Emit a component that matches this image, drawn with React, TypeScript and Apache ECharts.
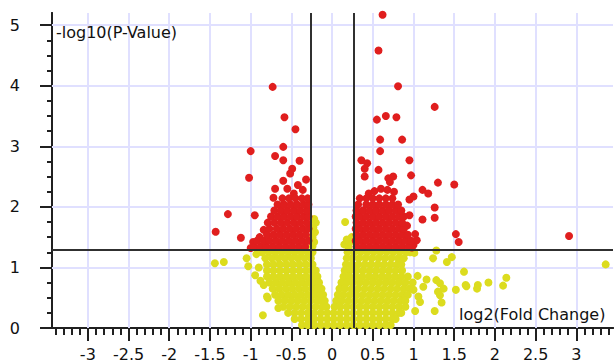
import React, { useEffect, useRef } from "react";
import * as echarts from "echarts";

// ---- axis ranges & ticks ----
const X_MIN = -3.44;
const X_MAX = 3.45;
const Y_MIN = 0;
const Y_MAX = 5.2;
const xMajorTicks = [-3, -2.5, -2, -1.5, -1, -0.5, 0, 0.5, 1, 1.5, 2, 2.5, 3];
const yMajorTicks = [0, 1, 2, 3, 4, 5];
const xGridLines = [-3, -2.5, -2, -1.5, -1, -0.5, 0, 0.5, 1, 1.5, 2, 2.5, 3];
const yGridLines = [1, 2, 3, 4, 5];
const xMinorTicks: number[] = [];
for (let i = -34; i <= 34; i++) xMinorTicks.push(i / 10);
const yMinorTicks: number[] = [];
for (let i = 0; i <= 20; i++) yMinorTicks.push(i / 4);

// thresholds
const fcThreshold = 0.263; // log2(1.2)
const pThreshold = 1.301; // -log10(0.05)

const xTitle = "log2(Fold Change)";
const yTitle = "-log10(P-Value)";

// ---- significant (red) points ----
const redLeftOutliers: [number, number][] = [
  [-0.73, 3.98], [-0.585, 3.48], [-0.45, 3.28], [-1.0, 2.92], [-0.6, 2.99],
  [-0.7, 2.84], [-0.6, 2.77], [-0.4, 2.76], [-1.02, 2.48], [-0.49, 2.63],
  [-0.515, 2.55], [-0.6, 2.43], [-0.32, 2.45], [-0.7, 2.3], [-0.72, 2.15],
  [-1.28, 1.88], [-0.95, 1.86], [-1.43, 1.59], [-1.12, 1.49], [-0.89, 1.5],
  [-0.97, 1.42], [-1.0, 1.32], [-0.42, 2.36], [-0.36, 2.28], [-0.55, 2.3],
  [-0.84, 1.62], [-0.47, 2.22],
];
const redLeftRows: [number, number[]][] = [
  [1.34, [-0.96, -0.88, -0.81, -0.73, -0.65, -0.57, -0.49, -0.41, -0.33]],
  [1.44, [-0.92, -0.84, -0.77, -0.69, -0.61, -0.53, -0.45, -0.37, -0.29]],
  [1.54, [-0.8, -0.72, -0.64, -0.56, -0.48, -0.4, -0.32]],
  [1.64, [-0.77, -0.68, -0.6, -0.52, -0.44, -0.36, -0.29]],
  [1.74, [-0.79, -0.71, -0.63, -0.55, -0.47, -0.39, -0.31]],
  [1.84, [-0.75, -0.67, -0.59, -0.51, -0.43, -0.35, -0.29]],
  [1.94, [-0.71, -0.63, -0.55, -0.47, -0.39, -0.31]],
  [2.04, [-0.67, -0.59, -0.51, -0.43, -0.35, -0.29]],
  [2.14, [-0.61, -0.53, -0.45, -0.37, -0.3]],
];
const redRightOutliers: [number, number][] = [
  [0.62, 5.17], [0.57, 4.58], [0.81, 3.99], [1.26, 3.65], [0.55, 3.44],
  [0.66, 3.5], [0.79, 3.48], [0.59, 3.11], [0.86, 3.11], [0.59, 2.92],
  [0.36, 2.77], [0.43, 2.72], [0.4, 2.63], [0.57, 2.61], [0.4, 2.5],
  [0.95, 2.77], [0.97, 2.52], [1.3, 2.4], [1.5, 2.37], [1.11, 2.28],
  [1.18, 2.22], [1.0, 2.17], [0.95, 2.12], [1.26, 1.99], [1.26, 1.82],
  [1.11, 1.79], [0.95, 1.86], [0.92, 1.69], [1.52, 1.55], [1.555, 1.42],
  [1.0, 1.37], [0.69, 2.47], [0.75, 2.5], [0.71, 2.41], [2.91, 1.52],
  [1.04, 1.45], [1.02, 1.55], [0.98, 1.33], [0.52, 2.26], [0.6, 2.3],
  [0.68, 2.28], [0.76, 2.25], [0.45, 2.22],
];
const redRightRows: [number, number[]][] = [
  [1.34, [0.3, 0.38, 0.46, 0.54, 0.62, 0.7, 0.78, 0.86, 0.94]],
  [1.44, [0.29, 0.34, 0.42, 0.5, 0.58, 0.66, 0.74, 0.82, 0.9, 0.97]],
  [1.54, [0.3, 0.38, 0.46, 0.54, 0.62, 0.7, 0.78, 0.86, 0.93]],
  [1.64, [0.29, 0.34, 0.42, 0.5, 0.58, 0.66, 0.74, 0.82, 0.88]],
  [1.74, [0.3, 0.38, 0.46, 0.54, 0.62, 0.7, 0.78, 0.86]],
  [1.84, [0.29, 0.34, 0.42, 0.5, 0.58, 0.66, 0.74, 0.82, 0.88]],
  [1.94, [0.3, 0.38, 0.46, 0.54, 0.62, 0.7, 0.78, 0.85]],
  [2.04, [0.32, 0.42, 0.5, 0.58, 0.66, 0.74, 0.81]],
  [2.14, [0.34, 0.42, 0.5, 0.58, 0.66, 0.74]],
];

// ---- non-significant (yellow) points ----
const yellowRows: [number, number[]][] = [
  [1.25, [-0.86, -0.78, -0.7, -0.62, -0.54, -0.46, -0.38, -0.3, -0.24, 0.19, 0.27, 0.35, 0.43, 0.51, 0.59, 0.67, 0.75, 0.83, 0.91, 0.96]],
  [1.15, [-0.82, -0.74, -0.66, -0.58, -0.5, -0.42, -0.34, -0.26, 0.18, 0.25, 0.33, 0.41, 0.49, 0.57, 0.65, 0.73, 0.81, 0.88]],
  [1.05, [-0.8, -0.72, -0.64, -0.56, -0.48, -0.4, -0.32, -0.24, 0.17, 0.24, 0.32, 0.4, 0.48, 0.56, 0.64, 0.72, 0.8, 0.85]],
  [0.95, [-0.8, -0.72, -0.64, -0.56, -0.48, -0.4, -0.32, -0.25, -0.2, 0.155, 0.22, 0.3, 0.38, 0.46, 0.54, 0.62, 0.7, 0.78, 0.86]],
  [0.85, [-0.8, -0.72, -0.64, -0.56, -0.48, -0.4, -0.32, -0.24, -0.18, 0.14, 0.21, 0.29, 0.37, 0.45, 0.53, 0.61, 0.69, 0.77, 0.85, 0.93]],
  [0.75, [-0.77, -0.69, -0.61, -0.53, -0.45, -0.37, -0.29, -0.21, -0.16, 0.115, 0.18, 0.26, 0.34, 0.42, 0.5, 0.58, 0.66, 0.74, 0.82, 0.9, 0.99]],
  [0.65, [-0.73, -0.65, -0.57, -0.49, -0.41, -0.33, -0.25, -0.18, -0.13, 0.09, 0.16, 0.24, 0.32, 0.4, 0.48, 0.56, 0.64, 0.72, 0.8, 0.88, 0.95]],
  [0.55, [-0.7, -0.62, -0.54, -0.46, -0.38, -0.3, -0.22, -0.15, -0.11, 0.07, 0.14, 0.22, 0.3, 0.38, 0.46, 0.54, 0.62, 0.7, 0.78, 0.86, 0.93]],
  [0.45, [-0.66, -0.58, -0.5, -0.42, -0.34, -0.26, -0.18, -0.12, -0.09, 0.05, 0.12, 0.2, 0.28, 0.36, 0.44, 0.52, 0.6, 0.68, 0.76, 0.84, 0.9]],
  [0.35, [-0.6, -0.52, -0.44, -0.36, -0.28, -0.2, -0.12, -0.07, 0.03, 0.1, 0.18, 0.26, 0.34, 0.42, 0.5, 0.58, 0.66, 0.74, 0.82, 0.9]],
  [0.25, [-0.54, -0.46, -0.38, -0.3, -0.22, -0.14, -0.06, 0.02, 0.1, 0.18, 0.26, 0.34, 0.42, 0.5, 0.58, 0.66, 0.74, 0.82, 0.85]],
  [0.15, [-0.46, -0.38, -0.3, -0.22, -0.14, -0.06, 0.02, 0.1, 0.18, 0.26, 0.34, 0.42, 0.5, 0.58, 0.66, 0.74, 0.78]],
  [0.05, [-0.37, -0.3, -0.22, -0.14, -0.06, 0.02, 0.1, 0.18, 0.26, 0.34, 0.42, 0.5, 0.58, 0.66, 0.72]],
];
const yellowOutliers: [number, number][] = [
  [-1.44, 1.07], [-1.33, 1.09], [-1.05, 1.15], [-1.03, 1.02], [-0.93, 1.22],
  [-0.85, 0.21], [-0.66, 0.33], [-0.79, 0.49], [-0.945, 0.87], [-0.84, 0.71],
  [-0.8, 0.52], [-0.9, 1.0], [-0.88, 0.78],
  [1.28, 1.28], [1.24, 1.15], [1.41, 1.09], [1.47, 1.17], [1.01, 1.24],
  [1.62, 0.93], [1.52, 0.63], [1.65, 0.69], [1.79, 0.71], [1.92, 0.75],
  [2.1, 0.7], [2.14, 0.83], [3.36, 1.05], [1.05, 0.86], [1.16, 0.8],
  [1.28, 0.79], [1.325, 0.74], [1.37, 0.65], [1.325, 0.54], [1.345, 0.42],
  [1.26, 0.28], [1.02, 0.28], [1.06, 0.52], [1.08, 0.43], [1.0, 0.63],
  [1.64, 0.71], [1.78, 0.65], [1.12, 0.68], [1.3, 0.6],
];
const yellowNearLines: [number, number][] = [
  [-0.24, 1.35], [-0.22, 1.42], [-0.24, 1.5], [-0.21, 1.58], [-0.23, 1.66],
  [-0.2, 1.74], [-0.22, 1.8], [0.16, 1.75], [0.2, 1.34], [0.15, 1.38],
  [0.22, 1.42], [0.18, 1.46], [0.24, 1.5],
];

const RED = "#e01e1e";
const YELLOW = "#dcdc1e";
const GRID = "#e0e0ff";
const AXIS = "#202020";
const THRESH = "#303030";
const FONT = "DejaVu Sans";

function rowsToPoints(rows: [number, number[]][]): [number, number][] {
  const out: [number, number][] = [];
  rows.forEach(([y, xs]) => xs.forEach((x) => out.push([x, y])));
  return out;
}

export default function App() {
  const ref = useRef<HTMLDivElement>(null);
  useEffect(() => {
    const chart = echarts.init(ref.current!, null, { renderer: "svg" });
    const yellowData = [...rowsToPoints(yellowRows), ...yellowOutliers, ...yellowNearLines];
    const redData = [
      ...redLeftOutliers,
      ...rowsToPoints(redLeftRows),
      ...redRightOutliers,
      ...rowsToPoints(redRightRows),
    ];
    const axisLineStyle = { color: AXIS, width: 2 };
    const option: any = {
      animation: false,
      backgroundColor: "#ffffff",
      grid: { left: 52, right: 1, top: 13, bottom: 34, containLabel: false, outerBoundsMode: "none" },
      xAxis: [
        {
          type: "value", min: X_MIN, max: X_MAX, position: "bottom",
          axisLine: { show: true, onZero: false, lineStyle: axisLineStyle },
          axisTick: { show: true, customValues: xMajorTicks, length: 13, lineStyle: axisLineStyle },
          axisLabel: {
            show: true, customValues: xMajorTicks, margin: 19, color: "#111",
            fontSize: 16, lineHeight: 14, fontFamily: FONT, formatter: (v: number) => String(v),
          },
          splitLine: { show: false },
        },
        {
          type: "value", min: X_MIN, max: X_MAX, position: "bottom",
          axisLine: { show: true, onZero: false, lineStyle: axisLineStyle },
          axisTick: { show: true, customValues: xMinorTicks, length: 7, lineStyle: axisLineStyle },
          axisLabel: { show: false },
          splitLine: { show: false },
        },
      ],
      yAxis: [
        {
          type: "value", min: Y_MIN, max: Y_MAX, position: "left",
          axisLine: { show: true, onZero: false, lineStyle: axisLineStyle },
          axisTick: { show: true, customValues: yMajorTicks, length: 12, lineStyle: axisLineStyle },
          axisLabel: {
            show: true, customValues: yMajorTicks, margin: 32, color: "#111",
            fontSize: 16, fontFamily: FONT, padding: [5, 0, 0, 0], formatter: (v: number) => String(v),
          },
          splitLine: { show: false },
        },
        {
          type: "value", min: Y_MIN, max: Y_MAX, position: "left",
          axisLine: { show: true, onZero: false, lineStyle: axisLineStyle },
          axisTick: { show: true, customValues: yMinorTicks, length: 5, lineStyle: axisLineStyle },
          axisLabel: { show: false },
          splitLine: { show: false },
        },
      ],
      series: [
        {
          type: "scatter", name: "ns", data: yellowData, symbol: "circle", symbolSize: 8,
          itemStyle: { color: YELLOW, opacity: 1 }, z: 2, silent: true, progressive: 0,
          markLine: {
            silent: true, symbol: "none", z: 1, label: { show: false }, animation: false,
            lineStyle: { color: GRID, width: 2, type: "solid" },
            emphasis: { disabled: true },
            data: [
              ...xGridLines.map((v) => ({ xAxis: v })),
              ...yGridLines.map((v) => ({ yAxis: v })),
            ],
          },
        },
        {
          type: "scatter", name: "sig", data: redData, symbol: "circle", symbolSize: 8,
          itemStyle: { color: RED, opacity: 1 }, z: 3, silent: true, progressive: 0,
          markLine: {
            silent: true, symbol: "none", z: 5, label: { show: false }, animation: false,
            lineStyle: { color: THRESH, width: 2, type: "solid" },
            emphasis: { disabled: true },
            data: [{ xAxis: -fcThreshold }, { xAxis: fcThreshold }, { yAxis: pThreshold }],
          },
        },
      ],
      graphic: [
        {
          type: "text", x: 56, y: 32, z: 10,
          style: { text: yTitle, fill: "#111", font: `16px "${FONT}"`, align: "left", verticalAlign: "middle" },
        },
        {
          type: "text", x: 459, y: 314, z: 10,
          style: { text: xTitle, fill: "#111", font: `16px "${FONT}"`, align: "left", verticalAlign: "middle" },
        },
      ],
    };
    chart.setOption(option);
    return () => chart.dispose();
  }, []);
  return <div ref={ref} style={{ position: "fixed", left: 0, top: 0, width: 614, height: 362 }} />;
}
